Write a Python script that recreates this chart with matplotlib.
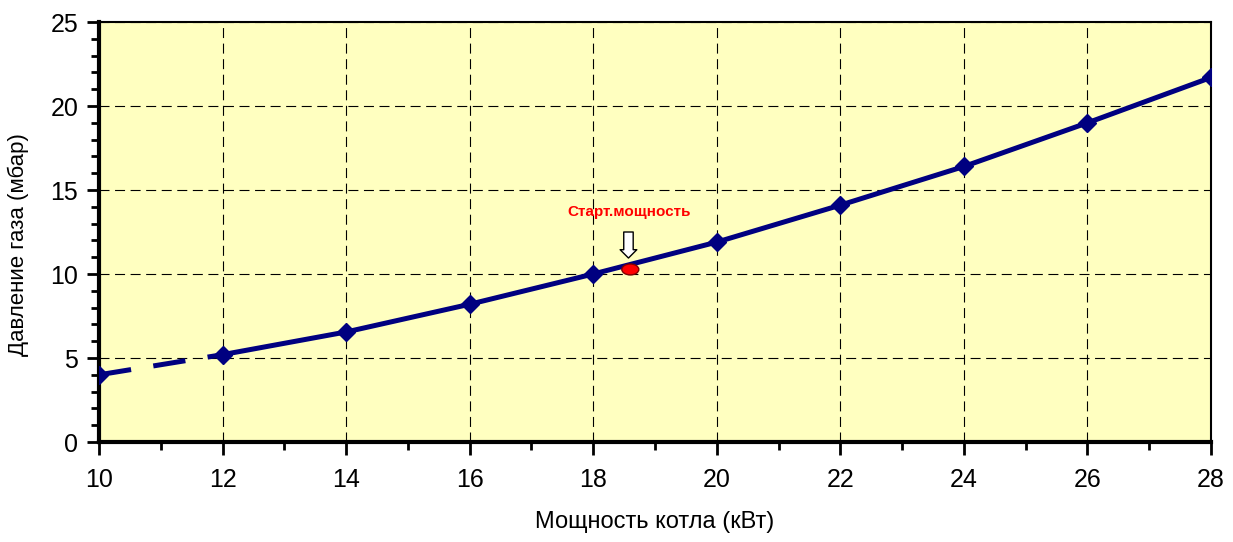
import numpy as np
import matplotlib.pyplot as plt
from matplotlib.patches import Ellipse

plt.rcParams['font.family'] = ['Liberation Sans', 'DejaVu Sans']

power = [10, 12, 14, 16, 18, 20, 22, 24, 26, 28]
pressure = [4.0, 5.2, 6.55, 8.2, 10.0, 11.9, 14.1, 16.4, 19.0, 21.7]
start_power = 18.6
start_pressure = 10.27
start_label = "Старт.мощность"

fig = plt.figure(figsize=(12.33, 5.42), dpi=100)
ax = fig.add_axes([0.0803, 0.1845, 0.9019, 0.7749])
ax.set_facecolor("#FFFFC0")

navy = "#000080"
ax.plot(power[:2], pressure[:2], color=navy, lw=3.6, ls=(0, (6.5, 4.5)), zorder=3)
ax.plot(power[1:], pressure[1:], color=navy, lw=3.6, zorder=3)
ax.plot(power, pressure, ls="none", marker="D", ms=9.5, color=navy, zorder=4)

ax.add_patch(Ellipse((start_power, start_pressure), 0.275, 0.65,
                     facecolor="red", edgecolor="#800000", lw=1, zorder=5))
ax.annotate("", xy=(start_power - 0.03, 10.95), xytext=(start_power - 0.03, 12.5),
            arrowprops=dict(arrowstyle="simple,head_width=0.6,head_length=0.3,tail_width=0.34",
                            mutation_scale=20, shrinkA=0, shrinkB=0,
                            fc="white", ec="black", lw=1), zorder=6)
ax.text(start_power - 0.02, 13.7, start_label, color="red", fontsize=11,
        fontweight="bold", ha="center", va="center", zorder=6)

ax.set_xlim(10, 28)
ax.set_ylim(0, 25)
ax.set_xticks(np.arange(10, 29, 2))
ax.set_xticks(np.arange(10, 29, 1), minor=True)
ax.set_yticks(np.arange(0, 26, 5))
ax.set_yticks(np.arange(0, 26, 1), minor=True)
ax.grid(True, which="major", color="black", ls=(0, (9, 5)), lw=0.8)
ax.tick_params(which="both", direction="out", width=2, labelsize=18)
ax.tick_params(which="major", length=9)
ax.tick_params(which="minor", length=6)
ax.tick_params(axis="x", pad=10)
ax.tick_params(axis="y", pad=6)
for s in ax.spines.values():
    s.set_linewidth(1.5)
ax.spines["left"].set_linewidth(3)
ax.spines["bottom"].set_linewidth(3)

ax.set_xlabel("Мощность котла (кВт)", fontsize=17)
ax.set_ylabel("Давление газа (мбар)", fontsize=16)
ax.xaxis.set_label_coords(0.5, -0.165)
ax.yaxis.set_label_coords(-0.063, 0.47)

fig.savefig("out.png", dpi=100)
